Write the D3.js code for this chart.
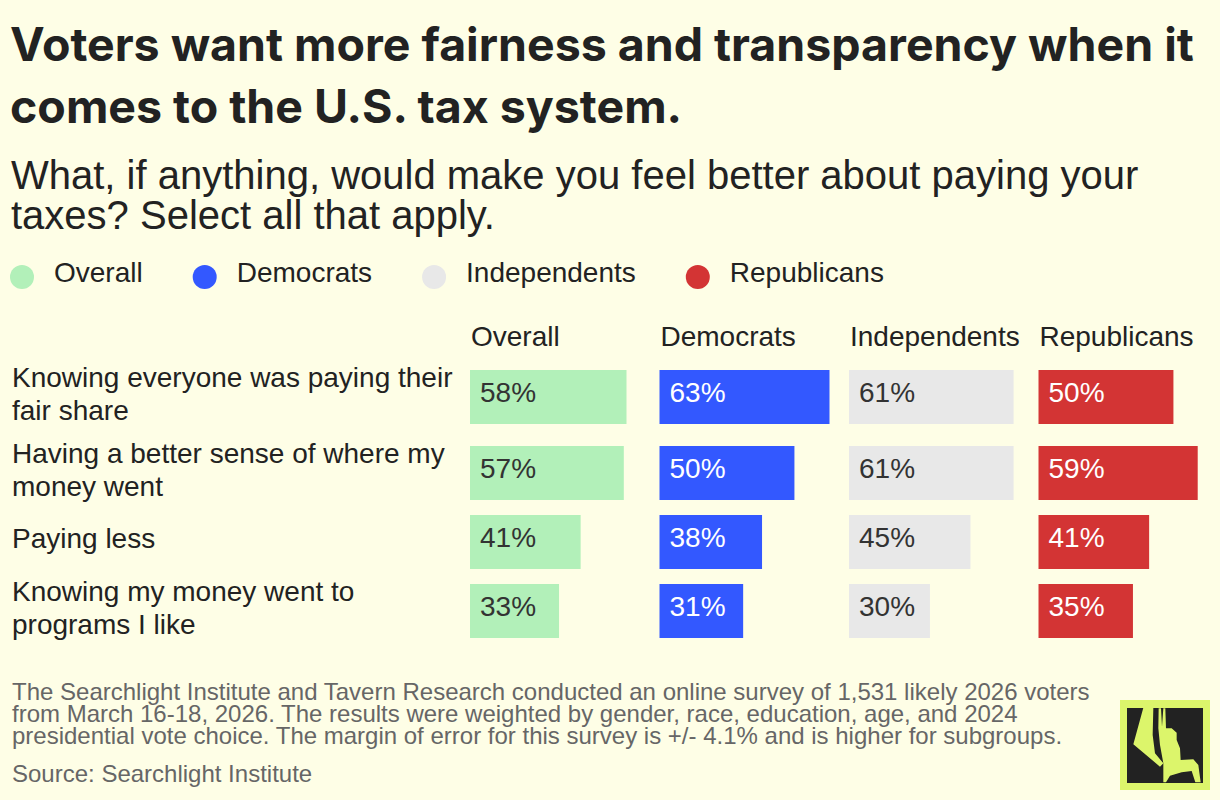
<!DOCTYPE html>
<html>
<head>
<meta charset="utf-8">
<script src="https://cdn.jsdelivr.net/npm/d3@7"></script>
<style>
  body { margin: 0; background: #FEFEE6; }
  svg { display: block; }
</style>
</head>
<body>
<script>
// chart data
var groups = ['Overall', 'Democrats', 'Independents', 'Republicans']
var groupColors = ['#B2F0B9', '#3358FF', '#E8E8E8', '#D33434']
var valueColors = ['#333333', '#FFFFFF', '#333333', '#FFFFFF']

var items = [
	['Knowing everyone was paying their', 'fair share'],
	['Having a better sense of where my', 'money went'],
	['Paying less'],
	['Knowing my money went to', 'programs I like']
]

var overall = [58, 57, 41, 33]
var democrats = [63, 50, 38, 31]
var independents = [61, 61, 45, 30]
var republicans = [50, 59, 41, 35]

var titleLines = [
	'Voters want more fairness and transparency when it',
	'comes to the U.S. tax system.'
]
var subtitleLines = [
	'What, if anything, would make you feel better about paying your',
	'taxes? Select all that apply.'
]
var noteLines = [
	'The Searchlight Institute and Tavern Research conducted an online survey of 1,531 likely 2026 voters',
	'from March 16-18, 2026. The results were weighted by gender, race, education, age, and 2024',
	'presidential vote choice. The margin of error for this survey is +/- 4.1% and is higher for subgroups.'
]
var sourceText = 'Source: Searchlight Institute'

var series = [overall, democrats, independents, republicans]

var width = 1220,
	height = 800

var sans = '"Liberation Sans", Arial, Helvetica, sans-serif'

var svg = d3.select('body').append('svg')
	.attr('width', width)
	.attr('height', height)

svg.append('rect')
	.attr('width', width)
	.attr('height', height)
	.attr('fill', '#FEFEE6')

// TITLE
svg.append('g').selectAll('text')
	.data(titleLines)
	.enter()
	.append('text')
		.attr('x', 10)
		.attr('y', (d, i) => 61 + i * 62)
		.attr('font-family', 'Inter, sans-serif')
		.attr('font-weight', 700)
		.attr('font-size', 46.5)
		.attr('fill', '#222')
		.text(d => d)

svg.append('g').selectAll('text')
	.data(subtitleLines)
	.enter()
	.append('text')
		.attr('x', 11)
		.attr('y', (d, i) => 189 + i * 40)
		.attr('font-family', sans)
		.attr('font-size', 40)
		.attr('fill', '#222')
		.text(d => d)

// LEGEND
var legend = svg.append('g')
var lx = 10
groups.forEach(function (d, i) {
	legend.append('circle')
		.attr('cx', lx + 12)
		.attr('cy', 277)
		.attr('r', 12)
		.attr('fill', groupColors[i])
	var t = legend.append('text')
		.attr('x', lx + 44)
		.attr('y', 282)
		.attr('font-family', sans)
		.attr('font-size', 28)
		.attr('fill', '#222')
		.text(d)
	lx += 44 + t.node().getComputedTextLength() + 50
})

// TABLE
var x0 = d3.scaleBand()
	.domain(groups)
	.range([470, 1228])

var x = d3.scaleLinear()
	.domain([0, 63])
	.range([0, 170])

var barH = 54
var rowH = items.map(d => d.length > 1 ? 76 : 62)
var rowTop = [359].concat(Array.from(d3.cumsum(rowH)).map(v => 359 + v)).slice(0, items.length)

var y = d3.scaleOrdinal()
	.domain(d3.range(items.length))
	.range(rowTop.map((t, i) => t + rowH[i] / 2))

svg.append('g').selectAll('text')
	.data(groups)
	.enter()
	.append('text')
		.attr('x', d => x0(d) + 1)
		.attr('y', 346)
		.attr('font-family', sans)
		.attr('font-size', 28)
		.attr('fill', '#222')
		.text(d => d)

var labels = svg.append('g').selectAll('text')
	.data(items)
	.enter()
	.append('text')
		.attr('font-family', sans)
		.attr('font-size', 28)
		.attr('fill', '#222')

labels.selectAll('tspan')
	.data((d, i) => d.map((line, j) => ({ line: line, j: j, n: d.length, row: i })))
	.enter()
	.append('tspan')
		.attr('x', 12)
		.attr('y', d => y(d.row) + 6 + (d.j - (d.n - 1) / 2) * 33)
		.text(d => d.line)

groups.forEach(function (g, gi) {
	var col = svg.append('g')

	col.selectAll('rect')
		.data(series[gi])
		.enter()
		.append('rect')
			.attr('x', x0(g))
			.attr('y', (d, i) => y(i) - barH / 2)
			.attr('width', d => x(d))
			.attr('height', barH)
			.attr('fill', groupColors[gi])

	col.selectAll('text')
		.data(series[gi])
		.enter()
		.append('text')
			.attr('x', x0(g) + 10)
			.attr('y', (d, i) => y(i) - barH / 2 + 32)
			.attr('font-family', sans)
			.attr('font-size', 28)
			.attr('fill', valueColors[gi])
			.text(d => d + '%')
})

// NOTE
svg.append('g').selectAll('text')
	.data(noteLines.concat([sourceText]))
	.enter()
	.append('text')
		.attr('x', 12)
		.attr('y', (d, i) => i < 3 ? 700 + i * 22 : 782)
		.attr('font-family', sans)
		.attr('font-size', 24)
		.attr('fill', '#666')
		.text(d => d)

// LOGO
var logo = svg.append('g')
	.attr('transform', 'translate(1120,700)')

logo.append('rect')
	.attr('width', 90)
	.attr('height', 90)
	.attr('fill', '#DCF56B')

logo.append('rect')
	.attr('x', 7)
	.attr('y', 8)
	.attr('width', 76)
	.attr('height', 75)
	.attr('fill', '#222')

var beam = [[100, 38], [130, 38], [128, 120], [135, 175], [160, 205], [150, 215], [70, 148]]
var figure = [[146, 40], [153, 40], [156, 95], [160, 40], [166, 40], [168, 100], [185, 100], [200, 113],
	[200, 135], [210, 160], [212, 195], [250, 193], [265, 210], [272, 262], [256, 262], [245, 228],
	[215, 232], [180, 242], [168, 262], [160, 262], [160, 205], [150, 150], [145, 100]]

var toLocal = p => [p[0] / 3 - 10, p[1] / 3 - 5]
var line = d3.line()

logo.append('path')
	.attr('d', line(beam.map(toLocal)) + 'Z')
	.attr('fill', '#DCF56B')

logo.append('path')
	.attr('d', line(figure.map(toLocal)) + 'Z')
	.attr('fill', '#DCF56B')
</script>
</body>
</html>
